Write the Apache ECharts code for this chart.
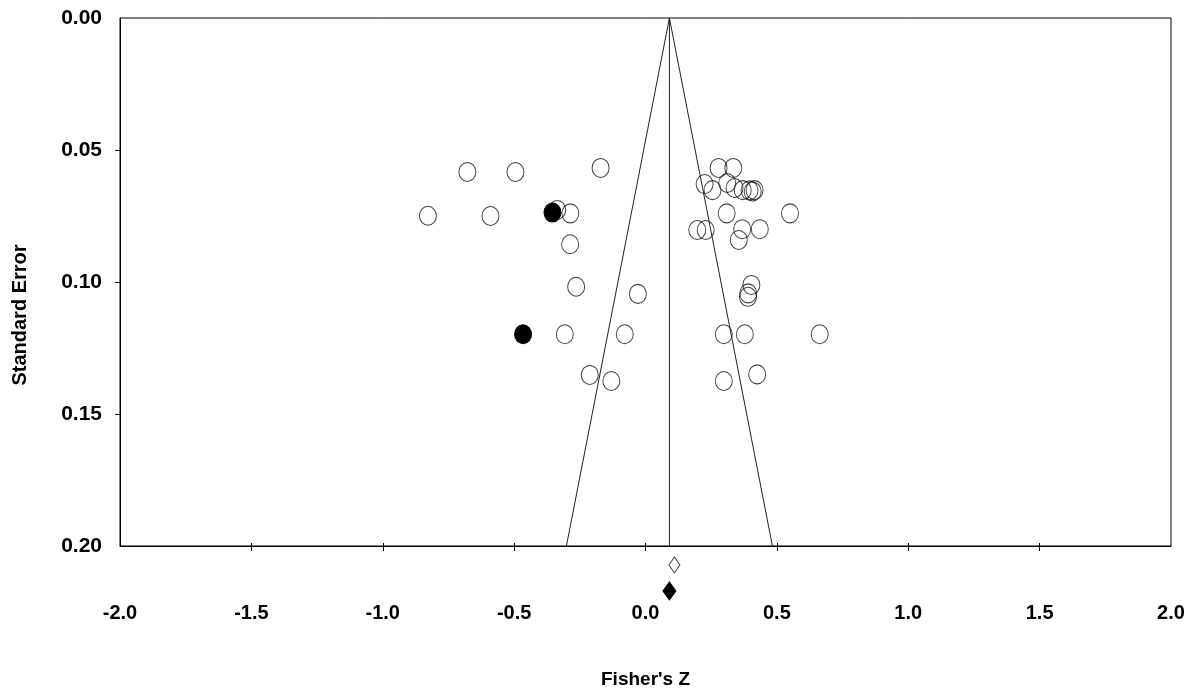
<!DOCTYPE html>
<html>
<head>
<meta charset="utf-8">
<script src="https://cdn.jsdelivr.net/npm/echarts@6/dist/echarts.min.js"></script>
<style>
html,body{margin:0;padding:0;background:#fff;}
#chart{width:1195px;height:689px;}
</style>
</head>
<body>
<div id="chart"></div>
<script>
// Observed studies (open circles): Fisher's Z and standard error
const openZ  = [-0.678,-0.495,-0.171,-0.828,-0.590,-0.336,-0.286,-0.287,-0.264,-0.029,-0.307,-0.079,-0.212,-0.130,
                0.278,0.334,0.225,0.255,0.311,0.339,0.370,0.396,0.408,0.415,0.309,0.550,0.197,0.229,0.368,0.435,0.355,
                0.403,0.391,0.390,0.298,0.378,0.663,0.298,0.425];
const openSE = [0.0583,0.0583,0.0568,0.0749,0.0750,0.0727,0.0740,0.0857,0.1018,0.1045,0.1198,0.1198,0.1352,0.1375,
                0.0568,0.0568,0.0629,0.0652,0.0625,0.0644,0.0652,0.0653,0.0657,0.0652,0.0740,0.0740,0.0803,0.0803,0.0800,0.0800,0.0841,
                0.1011,0.1043,0.1056,0.1198,0.1198,0.1198,0.1375,0.1350];
// Imputed studies (filled circles)
const filledZ  = [-0.354,-0.466];
const filledSE = [0.0737,0.1198];
// Pooled estimates (diamonds): observed and adjusted
const observedPooled = [0.110, 0.2072];
const adjustedPooled = [0.091, 0.2170];
// Funnel
const funnelCenter = 0.091;
const funnelMaxSE = 0.20;
// Axis ticks
const xTicks = [-1.5,-1.0,-0.5,0.0,0.5,1.0,1.5];
const yTicks = [0.05,0.10,0.15];

const zip = (a,b)=>a.map((v,i)=>[v,b[i]]);
const font = '"Liberation Sans", Arial, sans-serif';

const chart = echarts.init(document.getElementById('chart'), null, {renderer:'canvas'});
chart.setOption({
  animation:false,
  backgroundColor:'#ffffff',
  grid:{left:120,right:24,top:18,bottom:143,containLabel:false,outerBoundsMode:'none',
        show:true,borderColor:'#000',borderWidth:1,backgroundColor:'transparent'},
  xAxis:[{
    type:'value',min:-2,max:2,interval:0.5,position:'bottom',
    name:"Fisher's Z",nameLocation:'middle',nameGap:124,
    nameTextStyle:{fontFamily:font,fontWeight:'bold',fontSize:19,color:'#000'},
    axisLine:{show:true,onZero:false,lineStyle:{color:'#000',width:1}},
    axisTick:{show:true,inside:false,length:5,customValues:xTicks,lineStyle:{color:'#000'}},
    axisLabel:{margin:57,fontFamily:font,fontWeight:'bold',fontSize:20,color:'#000',formatter:v=>v.toFixed(1)},
    splitLine:{show:false}
  },{
    type:'value',min:-2,max:2,interval:0.5,position:'bottom',
    axisLine:{show:false,onZero:false},
    axisTick:{show:true,inside:true,length:3,customValues:xTicks,lineStyle:{color:'#000'}},
    axisLabel:{show:false},splitLine:{show:false}
  }],
  yAxis:{
    type:'value',min:0,max:0.2,interval:0.05,inverse:true,position:'left',
    name:'Standard Error',nameLocation:'middle',nameGap:90,nameRotate:90,
    nameTextStyle:{fontFamily:font,fontWeight:'bold',fontSize:20,color:'#000',padding:[0,66,0,0]},
    axisLine:{show:true,onZero:false,lineStyle:{color:'#000',width:1}},
    axisTick:{show:true,inside:false,length:5,customValues:yTicks,lineStyle:{color:'#000'}},
    axisLabel:{margin:18,fontFamily:font,fontWeight:'bold',fontSize:21,color:'#000',formatter:v=>v.toFixed(2)},
    splitLine:{show:false}
  },
  series:[
    {type:'line',data:[[funnelCenter-1.96*funnelMaxSE,funnelMaxSE],[funnelCenter,0],[funnelCenter+1.96*funnelMaxSE,funnelMaxSE]],
     symbol:'none',lineStyle:{color:'#222',width:1},silent:true},
    {type:'line',data:[[funnelCenter,0],[funnelCenter,funnelMaxSE]],symbol:'none',lineStyle:{color:'#222',width:1},silent:true},
    {type:'scatter',data:zip(openZ,openSE),symbol:'circle',symbolSize:[17,19],
     itemStyle:{color:'rgba(255,255,255,0)',borderColor:'#111',borderWidth:1}},
    {type:'scatter',data:zip(filledZ,filledSE),symbol:'circle',symbolSize:[17,19],
     itemStyle:{color:'#000',borderColor:'#000',borderWidth:1,opacity:1}},
    {type:'scatter',data:[observedPooled],symbol:'diamond',symbolSize:[11,16],clip:false,
     itemStyle:{color:'#fff',borderColor:'#111',borderWidth:1}},
    {type:'scatter',data:[adjustedPooled],symbol:'diamond',symbolSize:[13,18],clip:false,
     itemStyle:{color:'#000',borderColor:'#000',borderWidth:1,opacity:1}}
  ]
});
</script>
</body>
</html>
